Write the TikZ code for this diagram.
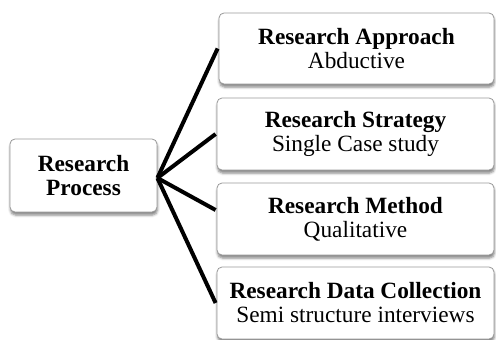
\documentclass[tikz,border=0pt]{standalone}
\usepackage{fontspec}
\setmainfont{Liberation Serif}
\usetikzlibrary{shadows.blur}
\begin{document}
\begin{tikzpicture}[x=1pt,y=-1pt,
  box/.style={draw=black!40, line width=0.8pt, fill=white, rounded corners=5pt,
    align=center, inner sep=0pt, font=\fontsize{23.3}{24}\selectfont,
    blur shadow={shadow xshift=0.5pt, shadow yshift=-3pt, shadow blur radius=2.5pt, shadow opacity=50}},
  link/.style={line width=4pt, black}]
\useasboundingbox (0,0) rectangle (496,340);
\node[box, minimum width=147pt, minimum height=73pt] (L) at (83.5,175.5) {\textbf{Research}\\\textbf{Process}};
\node[box, minimum width=275pt, minimum height=71pt] (b1) at (356.5,48.5) {\textbf{Research Approach}\\Abductive};
\node[box, minimum width=277pt, minimum height=72pt] (b2) at (355.5,134) {\textbf{Research Strategy}\\Single Case study};
\node[box, minimum width=277pt, minimum height=72pt] (b3) at (355.5,219) {\textbf{Research Method}\\Qualitative};
\node[box, minimum width=277pt, minimum height=72pt] (b4) at (355.5,303) {\textbf{Research Data Collection}\\Semi structure interviews};
\coordinate (hub) at ([yshift=-2.5pt]L.east);
\draw[link] (hub) -- ([xshift=-1pt]b1.west);
\draw[link] (hub) -- ([xshift=-1pt]b2.west);
\draw[link] (hub) -- ([xshift=-1pt,yshift=9pt]b3.west);
\draw[link] (hub) -- ([xshift=-1pt]b4.west);
\end{tikzpicture}
\end{document}
